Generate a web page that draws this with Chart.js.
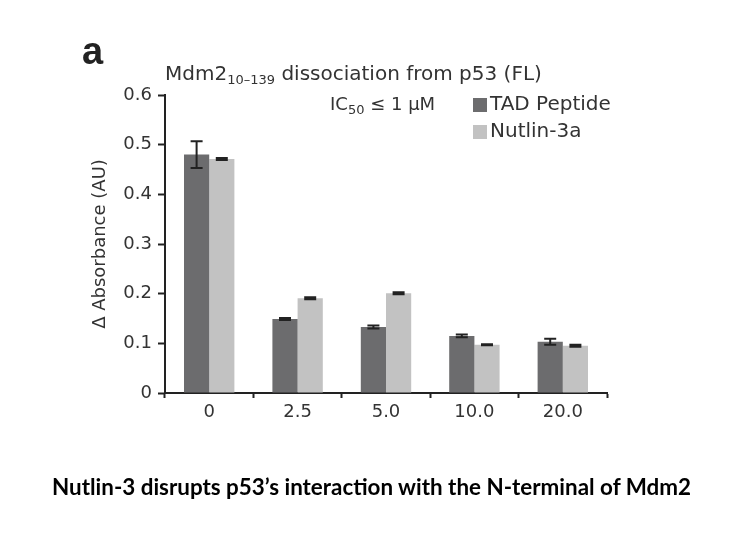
<!DOCTYPE html>
<html>
<head>
<meta charset="utf-8">
<script src="https://cdn.jsdelivr.net/npm/chart.js@4.4.1/dist/chart.umd.min.js"></script>
<style>
    body { margin: 0; background: #fff; }
    #wrap { position: relative; width: 743px; height: 544px; overflow: hidden; }
    #chart { position: absolute; left: 0; top: 0; }
    .txt { position: absolute; font-family: "DejaVu Sans", sans-serif; color: #333; white-space: nowrap; }
    #panel { left: 82px; top: 30px; font-family: "Liberation Sans", Arial, sans-serif; font-weight: bold; font-size: 38px; color: #222; }
    #title { left: 165px; top: 61px; font-size: 20px; }
    #ic50 { left: 330px; top: 93px; font-size: 18px; }
    .txt sub { font-size: 13px; vertical-align: -4px; }
    #caption { left: 0; width: 743px; text-align: center; top: 473px; font-family: Lato, "Open Sans", sans-serif; font-weight: bold; font-size: 22.4px; color: #000; }
</style>
</head>
<body>
<div id="wrap">
    <canvas id="chart" width="743" height="544"></canvas>
    <div id="panel" class="txt">a</div>
    <div id="title" class="txt">Mdm2<sub>10–139</sub> dissociation from p53 (FL)</div>
    <div id="ic50" class="txt">IC<sub>50</sub> ≤ 1 μM</div>
    <div id="caption" class="txt">Nutlin-3 disrupts p53’s interaction with the N-terminal of Mdm2</div>
</div>
<script>
const concentrations = ["0", "2.5", "5.0", "10.0", "20.0"];
const tadPeptide = [0.480, 0.149, 0.133, 0.115, 0.103];
const tadPeptideErr = [0.027, 0.002, 0.003, 0.003, 0.006];
const nutlin3a = [0.471, 0.191, 0.201, 0.097, 0.095];
const nutlin3aErr = [0.002, 0.002, 0.002, 0.001, 0.002];
const yTicks = [0, 0.1, 0.2, 0.3, 0.4, 0.5, 0.6];

const errorBars = {
    id: "errorBars",
    afterDatasetsDraw(chart) {
        const ctx = chart.ctx;
        const y = chart.scales.y;
        const errs = [tadPeptideErr, nutlin3aErr];
        ctx.save();
        ctx.strokeStyle = "#222";
        ctx.lineWidth = 2;
        chart.data.datasets.forEach((ds, i) => {
            chart.getDatasetMeta(i).data.forEach((bar, j) => {
                const v = ds.data[j];
                const top = y.getPixelForValue(v + errs[i][j]);
                const bot = y.getPixelForValue(v - errs[i][j]);
                ctx.beginPath();
                ctx.moveTo(bar.x, top); ctx.lineTo(bar.x, bot);
                ctx.moveTo(bar.x - 6, top); ctx.lineTo(bar.x + 6, top);
                ctx.moveTo(bar.x - 6, bot); ctx.lineTo(bar.x + 6, bot);
                ctx.stroke();
            });
        });
        ctx.restore();
    }
};

const sideLegend = {
    id: "sideLegend",
    afterDraw(chart) {
        const ctx = chart.ctx;
        ctx.save();
        ctx.font = "20px 'DejaVu Sans'";
        ctx.textBaseline = "middle";
        chart.data.datasets.forEach((ds, i) => {
            const cy = 105 + i * 27;
            ctx.fillStyle = ds.backgroundColor;
            ctx.fillRect(473, cy - 7, 14, 14);
            ctx.fillStyle = "#333";
            ctx.fillText(ds.label, 490, cy);
        });
        ctx.restore();
    }
};

new Chart(document.getElementById("chart"), {
    type: "bar",
    data: {
        labels: concentrations,
        datasets: [
            { label: "TAD Peptide", data: tadPeptide, backgroundColor: "#6c6c6e" },
            { label: "Nutlin-3a", data: nutlin3a, backgroundColor: "#c2c2c2" }
        ]
    },
    options: {
        responsive: false,
        animation: false,
        layout: { padding: { left: 88, top: 95, right: 136, bottom: 0 } },
        datasets: { bar: { categoryPercentage: 0.57, barPercentage: 1.0 } },
        scales: {
            x: {
                afterFit: s => { s.height = 151; },
                grid: { offset: true, drawOnChartArea: false, color: "#222", tickLength: 5, tickWidth: 2 },
                border: { color: "#222", width: 2 },
                ticks: { color: "#333", font: { family: "DejaVu Sans", size: 18 }, padding: 4 }
            },
            y: {
                min: 0,
                max: 0.6,
                afterFit: s => { s.width = 77; },
                afterBuildTicks: s => { s.ticks = yTicks.map(v => ({ value: v })); },
                grid: { drawOnChartArea: false, color: "#222", tickLength: 7, tickWidth: 2 },
                border: { color: "#222", width: 2 },
                ticks: {
                    color: "#333",
                    font: { family: "DejaVu Sans", size: 18 },
                    padding: 6,
                    callback: v => v === 0 ? "0" : v.toFixed(1)
                },
                title: { display: true, text: "Δ Absorbance (AU)", color: "#333", font: { family: "DejaVu Sans", size: 18 }, padding: { top: 2, bottom: 0 } }
            }
        },
        plugins: {
            legend: { display: false },
            tooltip: { enabled: false }
        }
    },
    plugins: [errorBars, sideLegend]
});
</script>
</body>
</html>
